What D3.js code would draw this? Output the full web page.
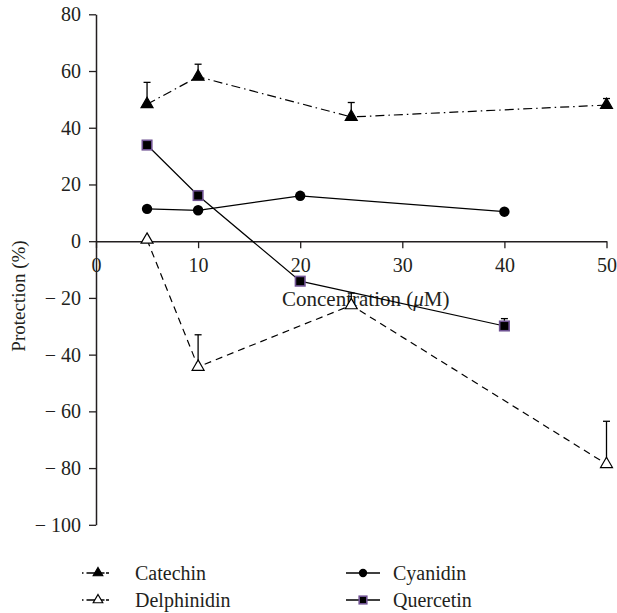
<!DOCTYPE html>
<html><head><meta charset="utf-8">
<script src="https://cdn.jsdelivr.net/npm/d3@7"></script>
<style>body{margin:0;background:#fff}svg{display:block}
svg text{font-family:"Liberation Serif","Times New Roman",serif;font-size:20px;fill:#231f20}</style>
</head><body><svg id="c" width="617" height="613"></svg>
<script>
// ---- data ----
const xTicks = [0, 10, 20, 30, 40, 50];
const yTicks = [-100, -80, -60, -40, -20, 0, 20, 40, 60, 80];

const catechinX = [5, 10, 25, 50];
const catechinY = [48.3, 58.0, 43.8, 48.0];
const catechinErr = [7.7, 4.4, 5.1, 2.3];

const delphinidinX = [5, 10, 25, 50];
const delphinidinY = [0.5, -44.3, -22.6, -78.6];
const delphinidinErr = [0, 11.3, 4.3, 15.1];

const cyanidinX = [5, 10, 20, 40];
const cyanidinY = [11.4, 10.9, 16.0, 10.4];
const cyanidinErr = [0, 0, 0, 0];

const quercetinX = [5, 10, 20, 40];
const quercetinY = [33.9, 16.1, -14.1, -29.9];
const quercetinErr = [0, 0, 0, 2.6];

const seriesNames = ["Catechin", "Delphinidin", "Cyanidin", "Quercetin"];

// ---- chart ----
const svg = d3.select("#c");
const ink = "#231f20";
const x = d3.scaleLinear().domain([0, 50]).range([96, 606.5]);
const y = d3.scaleLinear().domain([-100, 80]).range([524.8, 14.3]);

const fmt = v => v < 0 ? "\u2212 " + Math.abs(v) : String(v);

// y axis
const gy = svg.append("g").attr("transform", `translate(${x(0)},0)`)
  .call(d3.axisLeft(y).tickValues(yTicks).tickSize(7).tickSizeOuter(0).tickFormat(fmt).tickPadding(8));
gy.attr("font-family", null).attr("font-size", null);
gy.select(".domain").attr("stroke", ink).attr("stroke-width", 1.5);
gy.selectAll(".tick line").attr("stroke", ink).attr("stroke-width", 1.3);

// x axis
const gx = svg.append("g").attr("transform", `translate(0,${y(0)})`)
  .call(d3.axisBottom(x).tickValues(xTicks).tickSize(7).tickSizeOuter(0).tickPadding(10));
gx.attr("font-family", null).attr("font-size", null);
gx.select(".domain").attr("stroke", ink).attr("stroke-width", 1.5);
gx.selectAll(".tick line").attr("stroke", ink).attr("stroke-width", 1.3);

// axis titles
const xt = svg.append("text").attr("x", 282).attr("y", 306).style("font-size", "21px");
xt.append("tspan").text("Concentration (");
xt.append("tspan").style("font-style", "italic").text("\u03bc");
xt.append("tspan").text("M)");

svg.append("text").attr("transform", `translate(25,296) rotate(-90)`)
  .attr("text-anchor", "middle").style("font-size", "19px").text("Protection (%)");

// series config
const series = [
  {name: seriesNames[0], xs: catechinX, ys: catechinY, err: catechinErr, dash: "9,4,1.5,4", marker: "tri", fill: "#000", stroke: "#000"},
  {name: seriesNames[1], xs: delphinidinX, ys: delphinidinY, err: delphinidinErr, dash: "7,5", marker: "tri", fill: "#fff", stroke: "#000"},
  {name: seriesNames[2], xs: cyanidinX, ys: cyanidinY, err: cyanidinErr, dash: null, marker: "circle", fill: "#000", stroke: "#000"},
  {name: seriesNames[3], xs: quercetinX, ys: quercetinY, err: quercetinErr, dash: null, marker: "square", fill: "#000", stroke: "#6f5292"}
];

const line = d3.line().x(d => x(d[0])).y(d => y(d[1]));

function drawMarker(g, type, cx, cy, fill, stroke, scale) {
  if (type === "tri") {
    g.append("path").attr("d", d3.symbol(d3.symbolTriangle, 62 * scale * scale)())
      .attr("transform", `translate(${cx},${cy})`)
      .attr("fill", fill).attr("stroke", "#000").attr("stroke-width", 1.2);
  } else if (type === "circle") {
    g.append("circle").attr("cx", cx).attr("cy", cy).attr("r", 5.2 * scale).attr("fill", fill);
  } else {
    const s = 9.5 * scale;
    g.append("rect").attr("x", cx - s / 2).attr("y", cy - s / 2).attr("width", s).attr("height", s)
      .attr("fill", fill).attr("stroke", stroke).attr("stroke-width", 1.6);
  }
}

series.forEach(s => {
  const pts = s.xs.map((v, i) => [v, s.ys[i]]);
  const g = svg.append("g");
  g.append("path").attr("d", line(pts)).attr("fill", "none").attr("stroke", "#000")
    .attr("stroke-width", 1.2).attr("stroke-dasharray", s.dash);
  pts.forEach((p, i) => {
    if (s.err[i] > 0) {
      const top = y(p[1] + s.err[i]);
      g.append("line").attr("x1", x(p[0])).attr("x2", x(p[0])).attr("y1", y(p[1])).attr("y2", top)
        .attr("stroke", "#000").attr("stroke-width", 1.3);
      g.append("line").attr("x1", x(p[0]) - 3.5).attr("x2", x(p[0]) + 3.5).attr("y1", top).attr("y2", top)
        .attr("stroke", "#000").attr("stroke-width", 1.3);
    }
  });
  pts.forEach(p => drawMarker(g, s.marker, x(p[0]), y(p[1]), s.fill, s.stroke, 1));
});

// legend
const legendPos = [
  {lx1: 82, lx2: 109, mx: 98, tx: 135, ty: 573},
  {lx1: 82, lx2: 109, mx: 98, tx: 135, ty: 600},
  {lx1: 346, lx2: 380, mx: 363, tx: 393, ty: 573},
  {lx1: 346, lx2: 380, mx: 363, tx: 393, ty: 600}
];
const legendDash = ["1.5,3,9,3,6", "1.5,3,9,3,6", null, null];
series.forEach((s, i) => {
  const p = legendPos[i];
  const g = svg.append("g");
  g.append("line").attr("x1", p.lx1).attr("x2", p.lx2).attr("y1", p.ty).attr("y2", p.ty)
    .attr("stroke", "#000").attr("stroke-width", 1.3).attr("stroke-dasharray", legendDash[i]);
  drawMarker(g, s.marker, p.mx, p.ty, s.fill, s.stroke, 0.8);
  g.append("text").attr("x", p.tx).attr("y", p.ty + 7).text(s.name);
});
</script></body></html>
